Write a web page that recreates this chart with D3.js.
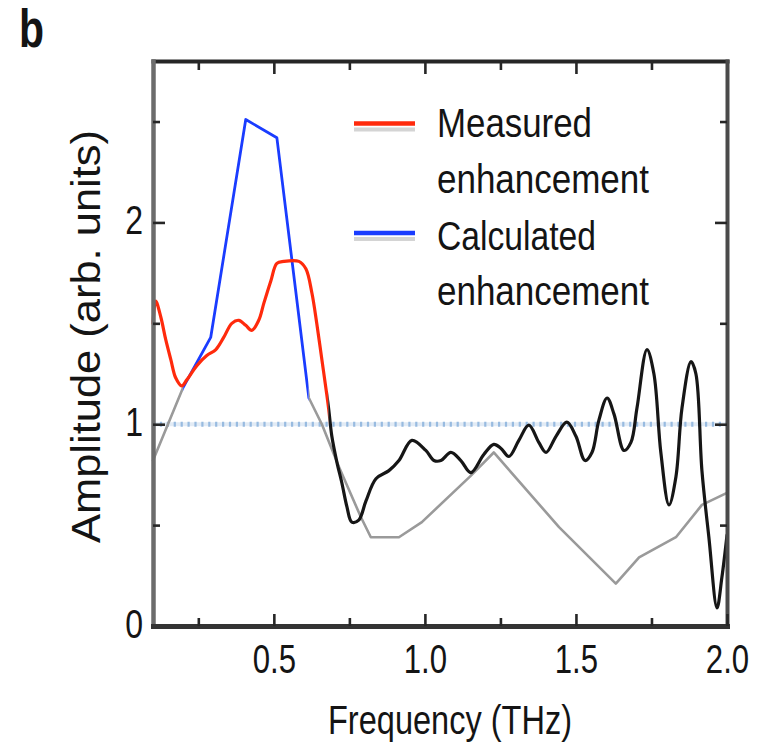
<!DOCTYPE html>
<html>
<head>
<meta charset="utf-8">
<script src="https://cdn.jsdelivr.net/npm/d3@7"></script>
<style>
  html, body { margin: 0; padding: 0; background: #ffffff; }
  svg { display: block; }
  text { font-family: "Liberation Sans", Arial, sans-serif; fill: #141414; }
</style>
</head>
<body>
<script>
// Measured field enhancement (THz), full trace
const measuredFreq = [0.100, 0.109, 0.126, 0.142, 0.159, 0.175, 0.195, 0.212, 0.245, 0.278,
  0.308, 0.334, 0.361, 0.384, 0.407, 0.427, 0.450, 0.467, 0.490, 0.510,
  0.533, 0.583, 0.606, 0.626, 0.642, 0.659, 0.675, 0.682, 0.692, 0.709,
  0.725, 0.742, 0.758, 0.781, 0.805, 0.838, 0.881, 0.914, 0.957, 1.003,
  1.030, 1.053, 1.086, 1.119, 1.152, 1.195, 1.228, 1.252, 1.278, 1.311,
  1.344, 1.377, 1.401, 1.434, 1.470, 1.500, 1.530, 1.553, 1.576, 1.603,
  1.626, 1.659, 1.682, 1.702, 1.735, 1.758, 1.781, 1.808, 1.831, 1.851,
  1.881, 1.897, 1.917, 1.940, 1.967, 1.983, 2.000];
const measuredAmp = [1.50, 1.61, 1.53, 1.42, 1.32, 1.23, 1.19, 1.22, 1.29, 1.34,
  1.37, 1.43, 1.50, 1.515, 1.49, 1.465, 1.515, 1.60, 1.71, 1.797,
  1.807, 1.807, 1.77, 1.65, 1.50, 1.32, 1.15, 1.07, 0.94, 0.81,
  0.71, 0.59, 0.515, 0.525, 0.62, 0.73, 0.77, 0.82, 0.92, 0.87,
  0.82, 0.82, 0.86, 0.82, 0.76, 0.85, 0.90, 0.88, 0.84, 0.92,
  0.995, 0.91, 0.86, 0.94, 1.01, 0.94, 0.82, 0.86, 1.02, 1.13,
  1.05, 0.87, 0.91, 1.08, 1.37, 1.25, 0.86, 0.60, 0.74, 1.08,
  1.31, 1.25, 0.77, 0.44, 0.09, 0.24, 0.45];

// Calculated enhancement, full trace
const calcFreq = [0.100, 0.199, 0.291, 0.407, 0.510, 0.616, 0.659, 0.715, 0.788, 0.821,
  0.914, 0.990, 1.149, 1.228, 1.444, 1.632, 1.709, 1.831, 1.917, 2.000];
const calcAmp = [0.82, 1.18, 1.43, 2.51, 2.42, 1.13, 1.00, 0.79, 0.54, 0.44,
  0.44, 0.515, 0.74, 0.86, 0.49, 0.21, 0.34, 0.44, 0.60, 0.66];

// Frequency bands where each trace is highlighted in colour
const measuredBand = [0.10, 0.68];
const calcBand = [0.20, 0.615];
const referenceLevel = 1;

// Axes
const xDomain = [0.1, 2.0];
const yDomain = [0, 2.8];
const xMajorTicks = [0.5, 1.0, 1.5, 2.0];
const xTickLabels = ["0.5", "1.0", "1.5", "2.0"];
const xMinorTicks = [0.25, 0.75, 1.25, 1.75];
const yMajorTicks = [0, 1, 2];
const yTickLabels = ["0", "1", "2"];
const yMinorTicks = [0.5, 1.5, 2.5];

const legendLabels = [["Measured", "enhancement"], ["Calculated", "enhancement"]];
const legendColors = ["#ff2a0c", "#1a3cff"];

const W = 758, H = 744;
const svg = d3.select("body").append("svg").attr("width", W).attr("height", H);
svg.append("rect").attr("width", W).attr("height", H).attr("fill", "#ffffff");

const x = d3.scaleLinear().domain(xDomain).range([153, 727]);
const y = d3.scaleLinear().domain(yDomain).range([626, 61]);

// narrow a text horizontally by factor k, scaling about its anchor point
function narrow(sel, k) {
  sel.each(function () {
    const t = d3.select(this);
    const x0 = +t.attr("x") || 0;
    t.attr("x", x0 / k).attr("transform", `scale(${k},1)`);
  });
}
function fit(sel, len) {
  sel.attr("textLength", len).attr("lengthAdjust", "spacingAndGlyphs");
}

// clip regions: inside / outside each highlighted band
const defs = svg.append("defs");
function bandClip(id, lo, hi) {
  defs.append("clipPath").attr("id", id).append("rect")
    .attr("x", lo).attr("y", 0).attr("width", Math.max(0, hi - lo)).attr("height", H);
}
bandClip("meas-in", 0, x(measuredBand[1]));
bandClip("meas-out", x(measuredBand[1]), W);
bandClip("calc-in", x(calcBand[0]), x(calcBand[1]));
defs.append("clipPath").attr("id", "calc-out").call(cp => {
  cp.append("rect").attr("x", 0).attr("y", 0).attr("width", x(calcBand[0])).attr("height", H);
  cp.append("rect").attr("x", x(calcBand[1])).attr("y", 0).attr("width", W - x(calcBand[1])).attr("height", H);
});

// reference level (dotted)
const refG = svg.append("g");
refG.append("line")
  .attr("x1", x(xDomain[0])).attr("x2", x(xDomain[1]))
  .attr("y1", y(referenceLevel)).attr("y2", y(referenceLevel))
  .attr("stroke", "#e2ebf5").attr("stroke-width", 4);
refG.append("line")
  .attr("x1", x(xDomain[0])).attr("x2", x(xDomain[1]))
  .attr("y1", y(referenceLevel)).attr("y2", y(referenceLevel))
  .attr("stroke", "#98bbe0").attr("stroke-width", 5)
  .attr("stroke-dasharray", "2.2 4.7");

const measured = measuredFreq.map((f, i) => [f, measuredAmp[i]]);
const calculated = calcFreq.map((f, i) => [f, calcAmp[i]]);

const measLine = d3.line().x(d => x(d[0])).y(d => y(d[1])).curve(d3.curveCatmullRom.alpha(0.5));
const calcLine = d3.line().x(d => x(d[0])).y(d => y(d[1])).curve(d3.curveLinear);

const plot = svg.append("g").attr("fill", "none").attr("stroke-linejoin", "round").attr("stroke-linecap", "round");
plot.append("path").attr("d", calcLine(calculated)).attr("clip-path", "url(#calc-out)")
  .attr("stroke", "#9a9a9a").attr("stroke-width", 2.6);
plot.append("path").attr("d", measLine(measured)).attr("clip-path", "url(#meas-out)")
  .attr("stroke", "#161616").attr("stroke-width", 3.2);
plot.append("path").attr("d", calcLine(calculated)).attr("clip-path", "url(#calc-in)")
  .attr("stroke", legendColors[1]).attr("stroke-width", 2.8);
plot.append("path").attr("d", measLine(measured)).attr("clip-path", "url(#meas-in)")
  .attr("stroke", legendColors[0]).attr("stroke-width", 3.2);

// axes (ticks pointing inward, boxed frame)
function styleAxis(g, domainColor, domainWidth) {
  g.select(".domain").attr("stroke", domainColor).attr("stroke-width", domainWidth)
    .attr("stroke-linecap", "square");
  g.selectAll(".tick line").attr("stroke", "#262626").attr("stroke-width", 2.6);
}
function minorAxis(axis, t) {
  return svg.append("g").attr("transform", t).call(axis)
    .call(g => g.select(".domain").remove())
    .call(g => g.selectAll(".tick line").attr("stroke", "#262626").attr("stroke-width", 2.6));
}

// top
svg.append("g").attr("transform", `translate(0,${y(yDomain[1])})`)
  .call(d3.axisTop(x).tickValues(xMajorTicks.slice(0, 3)).tickSize(-13).tickSizeOuter(0).tickFormat(""))
  .call(g => styleAxis(g, "#262626", 4));
minorAxis(d3.axisTop(x).tickValues(xMinorTicks).tickSize(-9).tickFormat(""), `translate(0,${y(yDomain[1])})`);

// right
svg.append("g").attr("transform", `translate(${x(xDomain[1])},0)`)
  .call(d3.axisRight(y).tickValues(yMajorTicks.slice(1)).tickSize(-12).tickSizeOuter(0).tickFormat(""))
  .call(g => styleAxis(g, "#4a4a4a", 4));
minorAxis(d3.axisRight(y).tickValues(yMinorTicks).tickSize(-7).tickFormat(""), `translate(${x(xDomain[1])},0)`);

// left
const leftAxis = svg.append("g").attr("transform", `translate(${x(xDomain[0])},0)`)
  .call(d3.axisLeft(y).tickValues(yMajorTicks).tickSize(-12).tickSizeOuter(0)
    .tickFormat((d, i) => yTickLabels[i]))
  .call(g => styleAxis(g, "#6c6c6c", 4.5));
minorAxis(d3.axisLeft(y).tickValues(yMinorTicks).tickSize(-7).tickFormat(""), `translate(${x(xDomain[0])},0)`);
leftAxis.selectAll(".tick text")
  .attr("x", -10).attr("dy", null).attr("y", 11)
  .attr("font-size", 40).attr("fill", "#141414")
  .call(narrow, 0.8);

// bottom
const bottomAxis = svg.append("g").attr("transform", `translate(0,${y(0)})`)
  .call(d3.axisBottom(x).tickValues(xMajorTicks).tickSize(-12).tickSizeOuter(0)
    .tickFormat((d, i) => xTickLabels[i]))
  .call(g => styleAxis(g, "#333333", 5));
minorAxis(d3.axisBottom(x).tickValues(xMinorTicks).tickSize(-8).tickFormat(""), `translate(0,${y(0)})`);
bottomAxis.selectAll(".tick text")
  .attr("dy", null).attr("y", 47)
  .attr("font-size", 41).attr("fill", "#141414")
  .call(narrow, 0.76);

// axis titles
svg.append("text")
  .attr("x", 450).attr("y", 734).attr("text-anchor", "middle")
  .attr("font-size", 41)
  .text("Frequency (THz)")
  .call(fit, 244);

svg.append("text")
  .attr("transform", "translate(100,336.5) rotate(-90)")
  .attr("text-anchor", "middle")
  .attr("font-size", 40)
  .text("Amplitude (arb. units)")
  .call(fit, 413);

// panel letter
svg.append("text")
  .attr("x", 19).attr("y", 47)
  .attr("font-size", 53).attr("font-weight", "bold")
  .text("b")
  .call(fit, 25);

// legend
const legend = svg.append("g");
const legendRowY = [123.5, 233];
const legendBaselines = [[137, 193], [250, 305]];
const legendWidths = [[155, 212], [159, 212]];
legendLabels.forEach((lines, i) => {
  legend.append("line")
    .attr("x1", 354).attr("x2", 415)
    .attr("y1", legendRowY[i] + 6).attr("y2", legendRowY[i] + 6)
    .attr("stroke", "#d4d4d4").attr("stroke-width", 4);
  legend.append("line")
    .attr("x1", 354).attr("x2", 415)
    .attr("y1", legendRowY[i]).attr("y2", legendRowY[i])
    .attr("stroke", legendColors[i]).attr("stroke-width", 4.5);
  lines.forEach((t, j) => {
    legend.append("text")
      .attr("x", 437).attr("y", legendBaselines[i][j])
      .attr("font-size", 40)
      .text(t)
      .call(fit, legendWidths[i][j]);
  });
});
</script>
</body>
</html>
